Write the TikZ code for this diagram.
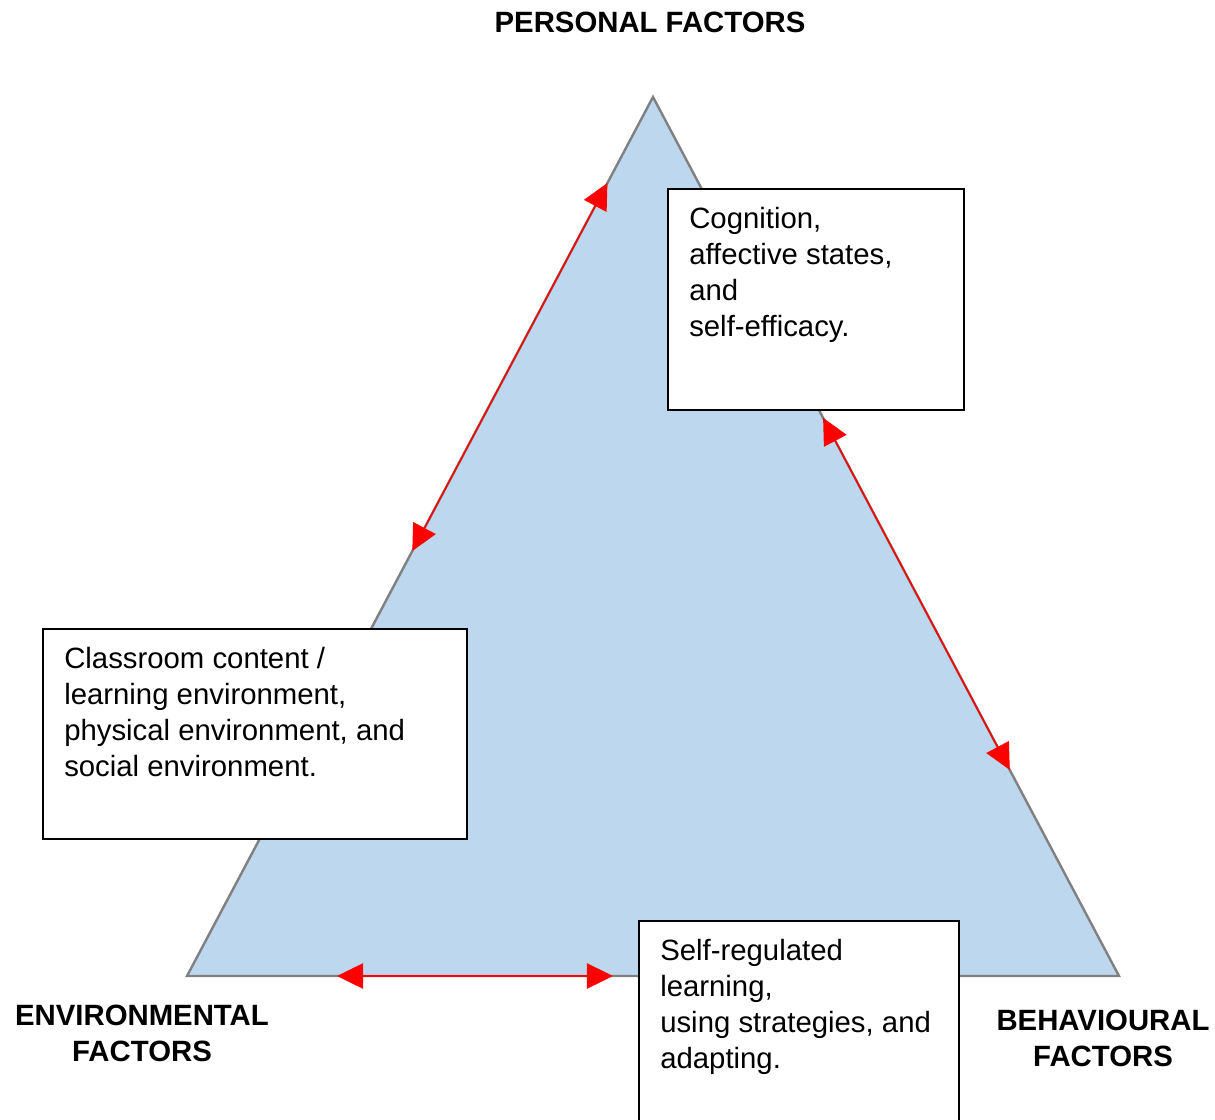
\documentclass[tikz,border=0pt]{standalone}
\usepackage{fontspec}
\setmainfont{Liberation Sans}
\usepackage{tikz}
\usetikzlibrary{positioning,calc,arrows.meta}

\definecolor{trifill}{RGB}{189,215,238}
\definecolor{triedge}{RGB}{128,128,128}

\begin{document}
\begin{tikzpicture}[x=0.75pt,y=-0.75pt,
    factor/.style={font=\bfseries\fontsize{22}{27}\selectfont, align=center, inner sep=0pt},
    box/.style={draw, rectangle, line width=1.3pt, fill=white, inner sep=0pt, outer sep=0pt, anchor=north west},
    boxtext/.style={font=\fontsize{22}{27}\selectfont, align=left, inner sep=0pt, anchor=north west},
    link/.style={red, line width=1.2pt, {Triangle[length=19.5pt,width=19pt]}-{Triangle[length=19.5pt,width=19pt]}}]
    \useasboundingbox (0,0) rectangle (1215,1120);

    % triangle
    \coordinate (pers) at (653,97);
    \coordinate (env) at (187,976);
    \coordinate (beh) at (1119,976);
    \draw[triedge, fill=trifill, line width=1.8pt] (pers) -- (env) -- (beh) -- cycle;

    % arrow ends along the sides
    \coordinate (pe1) at ($(pers)!0.0978!(env)$);
    \coordinate (pe2) at ($(pers)!0.5165!(env)$);
    \coordinate (pb1) at ($(pers)!0.365!(beh)$);
    \coordinate (pb2) at ($(pers)!0.7656!(beh)$);
    \coordinate (eb1) at ($(env)!0.161!(beh)$);
    \coordinate (eb2) at ($(env)!0.457!(beh)$);

    \draw[link] (pe1) -- (pe2);
    \draw[link] (pb1) -- (pb2);
    \draw[link] (eb1) -- (eb2);

    % boxes
    \node (cogbox) [box, minimum width=222pt, minimum height=165.75pt] at (668,189) {};
    \node (cogtext) [boxtext] at ([shift={(21,14)}]cogbox.north west)
        {\strut Cognition,\\affective states,\\and\\self-efficacy.};

    \node (envbox) [box, minimum width=318pt, minimum height=157.5pt] at (43,629) {};
    \node (envtext) [boxtext] at ([shift={(21,14)}]envbox.north west)
        {\strut Classroom content /\\learning environment,\\physical environment, and\\social environment.};

    \node (behbox) [box, minimum width=240pt, minimum height=152pt] at (639,921) {};
    \node (behtext) [boxtext] at ([shift={(21,14)}]behbox.north west)
        {\strut Self-regulated\\learning,\\using strategies, and\\adapting.};

    % corner labels
    \node (perslabel) [factor] at (650,22) {PERSONAL FACTORS};
    \node (envlabel) [factor] at (142,1033) {ENVIRONMENTAL\\FACTORS};
    \node (behlabel) [factor] at (1103,1038) {BEHAVIOURAL\\FACTORS};
\end{tikzpicture}
\end{document}
